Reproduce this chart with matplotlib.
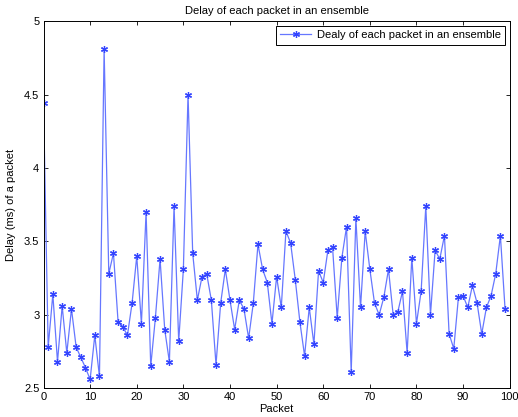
import numpy as np
import matplotlib
matplotlib.use('Agg')
import matplotlib.pyplot as plt

# delay of each packet (ms), packet index 0..99
packets = np.arange(100)
delays = [
    4.44, 2.78, 3.14, 2.68, 3.06, 2.74, 3.04, 2.78, 2.71, 2.64,
    2.56, 2.86, 2.58, 4.81, 3.28, 3.42, 2.95, 2.92, 2.86, 3.08,
    3.40, 2.94, 3.70, 2.65, 2.98, 3.38, 2.90, 2.68, 3.74, 2.82,
    3.31, 4.50, 3.42, 3.10, 3.26, 3.28, 3.10, 2.66, 3.08, 3.31,
    3.10, 2.90, 3.10, 3.04, 2.84, 3.08, 3.48, 3.31, 3.22, 2.94,
    3.26, 3.05, 3.57, 3.49, 3.24, 2.95, 2.72, 3.05, 2.80, 3.30,
    3.22, 3.44, 3.46, 2.98, 3.39, 3.60, 2.61, 3.66, 3.05, 3.57,
    3.31, 3.08, 3.00, 3.12, 3.31, 3.00, 3.02, 3.16, 2.74, 3.39,
    2.94, 3.16, 3.74, 3.00, 3.44, 3.38, 3.54, 2.87, 2.77, 3.12,
    3.13, 3.05, 3.20, 3.08, 2.87, 3.05, 3.13, 3.28, 3.54, 3.04,
]
xticks = [0, 10, 20, 30, 40, 50, 60, 70, 80, 90, 100]
yticks = [2.5, 3, 3.5, 4, 4.5, 5]
ytick_labels = ['2.5', '3', '3.5', '4', '4.5', '5']

plt.rcParams['font.family'] = ['Liberation Sans', 'DejaVu Sans']
plt.rcParams['font.size'] = 8

fig = plt.figure(figsize=(5.18, 4.17), dpi=100)
ax = fig.add_axes([0.084, 0.069, 0.900, 0.880])

# asterisk markers, matlab style
ax.plot(packets, delays, '-', color='#6677ff', linewidth=0.9,
        marker=(6, 2, 0), markersize=5, markeredgewidth=0.9,
        markeredgecolor='#3344ff',
        label='Dealy of each packet in an ensemble')

ax.set_xlim(0, 100)
ax.set_ylim(2.5, 5)
ax.set_xticks(xticks)
ax.set_xticklabels([str(t) for t in xticks])
ax.set_yticks(yticks)
ax.set_yticklabels(ytick_labels)
ax.tick_params(direction='in', length=3, width=0.6, top=True, right=True, pad=3)
for s in ax.spines.values():
    s.set_linewidth(0.7)

ax.set_title('Delay of each packet in an ensemble', fontsize=8, pad=5)
ax.set_xlabel('Packet', labelpad=1)
ax.set_ylabel('Delay (ms) of a packet', labelpad=6)

leg = ax.legend(loc='upper right', fancybox=False, framealpha=1,
                edgecolor='black', handlelength=2.8, handletextpad=0.5,
                borderpad=0.4, borderaxespad=0.4)
leg.get_frame().set_linewidth(0.7)

fig.savefig('out.png', dpi=100)
